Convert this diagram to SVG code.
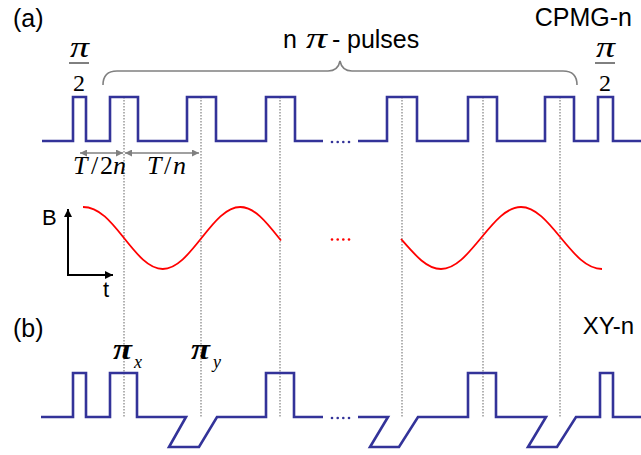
<svg xmlns="http://www.w3.org/2000/svg" width="641" height="455" viewBox="0 0 641 455">
<style>
.sans{font-family:"Liberation Sans",Arial,sans-serif;fill:#000}
.serif{font-family:"Liberation Serif","Times New Roman",serif;fill:#000;font-style:italic}
.up{font-style:normal}
.trace{fill:none;stroke:#333399;stroke-width:2.6;stroke-linejoin:miter}
.dot{stroke:#999;stroke-width:1.5;stroke-dasharray:1.5 1.5;fill:none}
.sine{fill:none;stroke:#ff0000;stroke-width:1.8}
.gray{fill:none;stroke:#808080;stroke-width:1.6}
</style>
<defs>
<marker id="ga" viewBox="0 0 10 10" refX="10" refY="5" markerWidth="7" markerHeight="7" markerUnits="userSpaceOnUse" orient="auto-start-reverse"><path d="M0 0 L10 5 L0 10 z" fill="#808080"/></marker>
<marker id="ka" viewBox="0 0 10 10" refX="10" refY="5" markerWidth="8" markerHeight="8" markerUnits="userSpaceOnUse" orient="auto"><path d="M0 0 L10 5 L0 10 z" fill="#000"/></marker>
</defs>
<rect width="641" height="455" fill="#fff"/>

<g id="connectors">
<g id="dotted-lines">
<line class="dot" x1="124" y1="97" x2="124" y2="417"/>
<line class="dot" x1="201" y1="97" x2="201" y2="417"/>
<line class="dot" x1="280" y1="97" x2="280" y2="417"/>
<line class="dot" x1="402" y1="97" x2="402" y2="417"/>
<line class="dot" x1="483" y1="97" x2="483" y2="417"/>
<line class="dot" x1="560" y1="97" x2="560" y2="417"/>
</g>
<g id="interval-arrows">
<line class="gray" x1="80" y1="153" x2="123" y2="153" marker-start="url(#ga)" marker-end="url(#ga)"/>
<line class="gray" x1="125" y1="153" x2="199" y2="153" marker-start="url(#ga)" marker-end="url(#ga)"/>
</g>
<path id="brace" class="gray" d="M103 85 Q103 71 117 71 H328 Q338 71 340 61 Q342 71 352 71 H563 Q577 71 577 85"/>
</g>

<g id="panel-a">
<text class="sans" x="13" y="27" font-size="25">(a)</text>
<text class="sans" x="632" y="26" font-size="25" text-anchor="end">CPMG-n</text>
<g id="label-pulses">
<text class="sans" x="283" y="48" font-size="25">n</text>
<text class="serif" x="306" y="48" font-size="30" textLength="21" lengthAdjust="spacingAndGlyphs">π</text>
<text class="sans" x="332" y="48" font-size="25">-</text>
<text class="sans" x="347" y="48" font-size="25">pulses</text>
</g>
<g id="frac-left">
<text class="serif" x="70" y="57" font-size="29" textLength="19" lengthAdjust="spacingAndGlyphs">π</text>
<line x1="69" y1="63" x2="89" y2="63" stroke="#000" stroke-width="1"/>
<text class="serif up" x="79" y="91" font-size="24" text-anchor="middle">2</text>
</g>
<g id="frac-right">
<text class="serif" x="596" y="57" font-size="29" textLength="19" lengthAdjust="spacingAndGlyphs">π</text>
<line x1="595" y1="63" x2="615" y2="63" stroke="#000" stroke-width="1"/>
<text class="serif up" x="605" y="91" font-size="24" text-anchor="middle">2</text>
</g>
<g id="trace-a">
<path class="trace" d="M42 141 H73 V97 H86 V141 H110 V97 H138 V141 H187 V97 H216 V141 H266 V97 H295 V141 H323"/>
<path class="trace" d="M358 141 H387 V97 H417 V141 H468 V97 H497 V141 H545 V97 H574 V141 H598 V97 H613 V141 H641"/>
<g fill="#333399"><circle cx="332" cy="142" r="1.3"/><circle cx="337.7" cy="142" r="1.3"/><circle cx="343.3" cy="142" r="1.3"/><circle cx="349" cy="142" r="1.3"/></g>
</g>
<g id="label-T2n" class="serif" font-size="26">
<text y="174"><tspan x="73">T</tspan><tspan x="91" class="up">/</tspan><tspan x="100" class="up">2</tspan><tspan x="113">n</tspan></text>
</g>
<g id="label-Tn" class="serif" font-size="26">
<text y="174"><tspan x="147">T</tspan><tspan x="164" class="up">/</tspan><tspan x="173">n</tspan></text>
</g>
</g>

<g id="field">
<line x1="68" y1="275" x2="68" y2="209" stroke="#000" stroke-width="2" marker-end="url(#ka)"/>
<line x1="67" y1="275" x2="113" y2="275" stroke="#000" stroke-width="2" marker-end="url(#ka)"/>
<text class="sans" x="42" y="225" font-size="22">B</text>
<text class="sans" x="103" y="297" font-size="22">t</text>
<path class="sine" d="M83 207 C99.22 207,111.05 221.72,124 238 C136.95 254.28,148.78 269,162.75 269 C176.72 269,188.550 254.28,201.5 238 C214.45 221.72,226.28 207,240.25 207 C254.22 207,266.05 221.72,279 238 L281 240.5"/>
<path class="sine" d="M401 239 C414.37 254.28,426.58 269,441 269 C455.42 269,467.63 254.28,481 238 C494.37 221.72,506.58 207,521 207 C535.42 207,547.63 221.72,561 238 C574.37 254.28,586.58 269,602 269"/>
<g fill="#ff0000"><circle cx="332" cy="239.5" r="1.3"/><circle cx="337.7" cy="239.5" r="1.3"/><circle cx="343.3" cy="239.5" r="1.3"/><circle cx="349" cy="239.5" r="1.3"/></g>
</g>

<g id="panel-b">
<text class="sans" x="13" y="337" font-size="25">(b)</text>
<text class="sans" x="634" y="334" font-size="24" text-anchor="end">XY-n</text>
<g id="label-pix">
<text class="serif" x="113" y="359" font-size="30" font-weight="bold" textLength="19" lengthAdjust="spacingAndGlyphs">π</text>
<text class="serif" x="134" y="368" font-size="18">x</text>
</g>
<g id="label-piy">
<text class="serif" x="191" y="359" font-size="30" font-weight="bold" textLength="19" lengthAdjust="spacingAndGlyphs">π</text>
<text class="serif" x="213" y="368" font-size="18">y</text>
</g>
<g id="trace-b">
<path class="trace" d="M41 417 H73 V373 H86 V417 H110 V373 H137 V417 H186 L169 447 H199 L217 417 H266 V373 H294 V417 H323"/>
<path class="trace" d="M358 417 H388 L370 447 H399 L418 417 H468 V373 H496 V417 H546 L528 447 H557 L576 417 H600 V373 H613 V417 H641"/>
<g fill="#333399"><circle cx="332" cy="418" r="1.3"/><circle cx="337.7" cy="418" r="1.3"/><circle cx="343.3" cy="418" r="1.3"/><circle cx="349" cy="418" r="1.3"/></g>
</g>
</g>
</svg>
